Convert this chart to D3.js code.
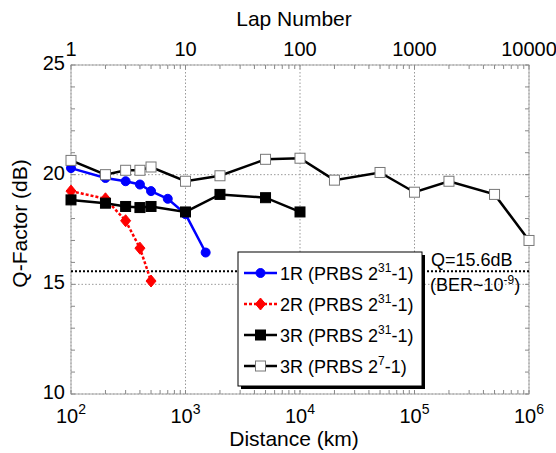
<!DOCTYPE html>
<meta charset="utf-8">
<script src="https://d3js.org/d3.v7.min.js"></script>
<style>
  body { margin: 0; background: #fff; }
  text { font-family: Arial, "Liberation Sans", sans-serif; fill: #000; }
</style>
<div id="my_dataviz"></div>
<script>

// data (distance in km, Q in dB)
var x1R = [100, 200, 300, 400, 500, 700, 1000, 1500];
var q1R = [20.3, 19.85, 19.7, 19.55, 19.25, 18.9, 18.2, 16.45];

var x2R = [100, 200, 300, 400, 500];
var q2R = [19.25, 18.9, 17.9, 16.65, 15.15];

var x3R = [100, 200, 300, 400, 500, 1000, 2000, 5000, 10000];
var q3R = [18.85, 18.7, 18.55, 18.5, 18.55, 18.3, 19.1, 18.95, 18.3];

var x3R7 = [100, 200, 300, 400, 500, 1000, 2000, 5000, 10000, 20000, 50000, 100000, 200000, 500000, 1000000];
var q3R7 = [20.65, 20.0, 20.2, 20.2, 20.35, 19.7, 19.95, 20.7, 20.75, 19.75, 20.1, 19.2, 19.7, 19.1, 17.0];

var distTicks = [2, 3, 4, 5, 6];        // exponents, 10^n
var lapTicks = ["1", "10", "100", "1000", "10000"];
var qTicks = [10, 15, 20, 25];
var qLimit = 15.6;

var legendLabels = [
  {name: "1R (PRBS 2", sup: "31", tail: "-1)"},
  {name: "2R (PRBS 2", sup: "31", tail: "-1)"},
  {name: "3R (PRBS 2", sup: "31", tail: "-1)"},
  {name: "3R (PRBS 2", sup: "7", tail: "-1)"}
];

var margin = {top: 65, right: 27, bottom: 59, left: 71},
    width = 556 - margin.left - margin.right,
    height = 453 - margin.top - margin.bottom;

var svg = d3.select("#my_dataviz")
  .append("svg")
    .attr("width", 556)
    .attr("height", 453)
  .append("g")
    .attr("transform", "translate(" + margin.left + "," + margin.top + ")");

var x = d3.scaleLog().domain([1e2, 1e6]).range([0, width]);
var xLap = d3.scaleLog().domain([1, 1e4]).range([0, width]);
var y = d3.scaleLinear().domain([10, 25]).range([height, 0]);

var axisGray = "#a8a8a8";

// grid
var grid = svg.append("g");
distTicks.forEach(function(e) {
  grid.append("line")
    .attr("x1", x(Math.pow(10, e))).attr("x2", x(Math.pow(10, e)))
    .attr("y1", 0).attr("y2", height)
    .attr("stroke", "#999").attr("stroke-dasharray", "1.5,2").attr("stroke-width", 1);
});
qTicks.forEach(function(q) {
  grid.append("line")
    .attr("x1", 0).attr("x2", width)
    .attr("y1", y(q)).attr("y2", y(q))
    .attr("stroke", "#999").attr("stroke-dasharray", "1.5,2").attr("stroke-width", 1);
});

// frame
svg.append("rect")
  .attr("width", width).attr("height", height)
  .attr("fill", "none").attr("stroke", axisGray).attr("stroke-width", 1);

// minor ticks on bottom and top
var minor = [];
for (var e = 2; e < 6; e++) for (var k = 1; k <= 9; k++) minor.push(k * Math.pow(10, e));
minor.push(1e6);
svg.append("g").selectAll("line.bt").data(minor).enter().append("line")
  .attr("x1", function(d) { return x(d); }).attr("x2", function(d) { return x(d); })
  .attr("y1", height).attr("y2", height - 4)
  .attr("stroke", "#888");
svg.append("g").selectAll("line.tt").data(minor).enter().append("line")
  .attr("x1", function(d) { return x(d); }).attr("x2", function(d) { return x(d); })
  .attr("y1", 0).attr("y2", 4)
  .attr("stroke", "#888");

// minor ticks on left and right
var qMinor = d3.range(10, 26, 1);
svg.append("g").selectAll("line.lt").data(qMinor).enter().append("line")
  .attr("x1", 0).attr("x2", 4)
  .attr("y1", function(d) { return y(d); }).attr("y2", function(d) { return y(d); })
  .attr("stroke", "#888");
svg.append("g").selectAll("line.rt").data(qMinor).enter().append("line")
  .attr("x1", width).attr("x2", width - 4)
  .attr("y1", function(d) { return y(d); }).attr("y2", function(d) { return y(d); })
  .attr("stroke", "#888");

// tick labels
var bl = svg.append("g").selectAll("text").data(distTicks).enter().append("text")
  .attr("x", function(d) { return x(Math.pow(10, d)); })
  .attr("y", height + 29)
  .attr("text-anchor", "middle")
  .style("font-size", "20px");
bl.append("tspan").text("10");
bl.append("tspan").attr("dy", -9).style("font-size", "14px").text(function(d) { return d; });

svg.append("g").selectAll("text").data(lapTicks).enter().append("text")
  .attr("x", function(d) { return xLap(+d); })
  .attr("y", -9)
  .attr("text-anchor", "middle")
  .style("font-size", "20px")
  .text(function(d) { return d; });

svg.append("g").selectAll("text").data(qTicks).enter().append("text")
  .attr("x", -6)
  .attr("y", function(d) { return y(d) + 5; })
  .attr("text-anchor", "end")
  .style("font-size", "20px")
  .text(function(d) { return d; });

// axis titles
svg.append("text")
  .attr("x", width / 2 - 6).attr("y", height + 52)
  .attr("text-anchor", "middle").style("font-size", "21px")
  .text("Distance (km)");
svg.append("text")
  .attr("x", width / 2 - 6).attr("y", -39)
  .attr("text-anchor", "middle").style("font-size", "21px")
  .text("Lap Number");
svg.append("text")
  .attr("transform", "translate(-44," + (height / 2 - 6) + ") rotate(-90)")
  .attr("text-anchor", "middle").style("font-size", "21px")
  .text("Q-Factor (dB)");

// threshold line
svg.append("line")
  .attr("x1", 0).attr("x2", width)
  .attr("y1", y(qLimit)).attr("y2", y(qLimit))
  .attr("stroke", "#000").attr("stroke-width", 2).attr("stroke-dasharray", "2,2");

svg.append("text")
  .attr("x", 360).attr("y", y(qLimit) - 5)
  .style("font-size", "18px")
  .text("Q=15.6dB");
var ber = svg.append("text")
  .attr("x", 359).attr("y", y(qLimit) + 20)
  .style("font-size", "18px");
ber.append("tspan").text("(BER~10");
ber.append("tspan").attr("dy", -7).style("font-size", "12px").text("-9");
ber.append("tspan").attr("dy", 7).text(")");

// series
var series = [
  {xs: x1R, qs: q1R, color: "#0000ff", dash: null, marker: "circle", fill: "#0000ff"},
  {xs: x2R, qs: q2R, color: "#ff0000", dash: "3,2", marker: "diamond", fill: "#ff0000"},
  {xs: x3R, qs: q3R, color: "#000", dash: null, marker: "square", fill: "#000"},
  {xs: x3R7, qs: q3R7, color: "#000", dash: null, marker: "square", fill: "#fff"}
];

var line = d3.line()
  .x(function(d) { return x(d[0]); })
  .y(function(d) { return y(d[1]); });

function drawMarker(g, s, cx, cy) {
  if (s.marker === "circle") {
    g.append("circle").attr("cx", cx).attr("cy", cy).attr("r", 4.5)
      .attr("fill", s.fill).attr("stroke", s.color);
  } else if (s.marker === "diamond") {
    g.append("path")
      .attr("d", "M" + cx + "," + (cy - 6) + "L" + (cx + 5) + "," + cy + "L" + cx + "," + (cy + 6) + "L" + (cx - 5) + "," + cy + "Z")
      .attr("fill", s.fill).attr("stroke", s.color);
  } else {
    g.append("rect").attr("x", cx - 5).attr("y", cy - 5).attr("width", 10).attr("height", 10)
      .attr("fill", s.fill)
      .attr("stroke", s.fill === "#fff" ? "#777" : s.color).attr("stroke-width", 1);
  }
}

series.forEach(function(s) {
  var pts = s.xs.map(function(d, i) { return [d, s.qs[i]]; });
  var g = svg.append("g");
  g.append("path")
    .datum(pts)
    .attr("d", line)
    .attr("fill", "none")
    .attr("stroke", s.color)
    .attr("stroke-width", 2.5)
    .attr("stroke-dasharray", s.dash);
  pts.forEach(function(p) { drawMarker(g, s, x(p[0]), y(p[1])); });
});

// legend
var lg = svg.append("g").attr("transform", "translate(167,187)");
lg.append("rect").attr("x", 3).attr("y", 3).attr("width", 184).attr("height", 134).attr("fill", "#000");
lg.append("rect").attr("width", 184).attr("height", 134).attr("fill", "#fff").attr("stroke", "#000");
series.forEach(function(s, i) {
  var ry = 21 + i * 31;
  lg.append("line").attr("x1", 6).attr("x2", 39).attr("y1", ry).attr("y2", ry)
    .attr("stroke", s.color).attr("stroke-width", 2.5).attr("stroke-dasharray", s.dash);
  drawMarker(lg, s, 22.5, ry);
  var t = lg.append("text").attr("x", 42).attr("y", ry + 7).style("font-size", "18px");
  t.append("tspan").text(legendLabels[i].name);
  t.append("tspan").attr("dy", -8).style("font-size", "12px").text(legendLabels[i].sup);
  t.append("tspan").attr("dy", 8).text(legendLabels[i].tail);
});

</script>
